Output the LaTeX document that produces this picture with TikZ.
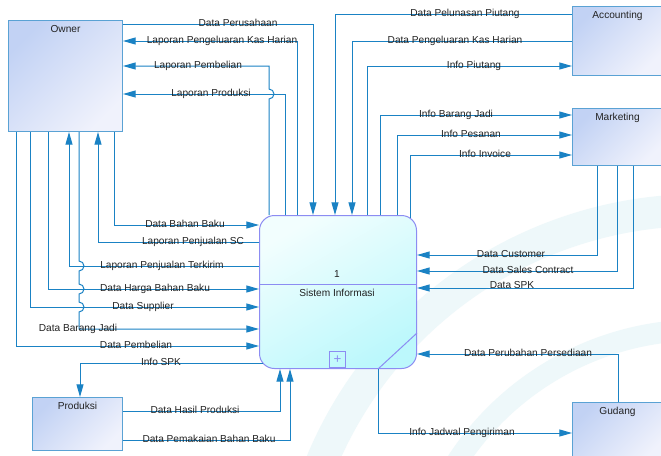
\documentclass[tikz,border=0pt]{standalone}
\usepackage{fontspec}
\setmainfont{Liberation Sans}
\usetikzlibrary{arrows.meta}
\definecolor{lc}{HTML}{1A82C4}
\definecolor{ebord}{HTML}{5AA2D4}
\definecolor{etop}{HTML}{C2D2F4}
\definecolor{ebot}{HTML}{F0F2FC}
\definecolor{pbord}{HTML}{8C8CF2}
\definecolor{ptop}{HTML}{F2FEFE}
\definecolor{pbot}{HTML}{BCF8FC}
\definecolor{txt}{HTML}{222222}
\definecolor{wm}{HTML}{EEF8FA}
\begin{document}
\begin{tikzpicture}[x=0.75pt,y=-0.75pt,
 font=\fontsize{7.6}{9}\selectfont, text=txt,
 entity/.style={draw=ebord, line width=0.75pt, top color=etop, bottom color=ebot, shading angle=45, anchor=north west, inner sep=0pt},
 title/.style={anchor=north, inner sep=0pt, yshift=-3.75pt, text height=5.4pt, text depth=0pt},
 flow/.style={draw=lc, line width=0.75pt},
 arr/.style={flow, -{Triangle[length=9.5pt,width=5.25pt]}},
 lbl/.style={anchor=base, inner sep=0pt},
]
\useasboundingbox (0,0) rectangle (661,455);
\clip (0,0) rectangle (661,455);
\fill[white] (0,0) rectangle (661,455);
% watermark
\draw[wm, line width=24pt] (700,620) ++(160:307.5pt) arc[start angle=160, end angle=88, radius=307.5pt];
\draw[wm, line width=16pt] (700,620) ++(150:217.5pt) arc[start angle=150, end angle=95, radius=217.5pt];

% entities
\node[entity, minimum width=85.5pt, minimum height=83.25pt, label={[title]north:Owner}] (owner) at (8,20) {};
\node[entity, minimum width=67.5pt, minimum height=51.75pt, label={[title]north:Accounting}] (acc) at (572,6) {};
\node[entity, minimum width=67.5pt, minimum height=42.75pt, label={[title]north:Marketing}] (mkt) at (572,108) {};
\node[entity, minimum width=67.5pt, minimum height=45pt, label={[title]north:Gudang}] (gud) at (572,402) {};
\node[entity, minimum width=67.5pt, minimum height=39.75pt, label={[title]north:Produksi}] (prod) at (32,397) {};

% process
\node[draw=pbord, line width=0.75pt, rounded corners=11.25pt, top color=ptop, bottom color=pbot, shading angle=30, anchor=north west, minimum width=117.75pt, minimum height=114.75pt, inner sep=0pt] (proc) at (259,215) {};
\draw[pbord, line width=0.75pt] (proc.west |- 0,284) -- (proc.east |- 0,284);
\draw[pbord, line width=0.75pt] (proc.south -| 378,0) -- (proc.east |- 0,333);
\node[draw=pbord, line width=0.75pt, minimum width=12pt, minimum height=12pt, inner sep=0pt, anchor=south west, text=pbord, font=\fontsize{10}{10}\selectfont] (plus) at (329,368) {+};
\node[inner sep=0pt] (pnum) at (337,274) {1};
\node[inner sep=0pt] (pname) at (337,293) {Sistem Informasi};

% Owner right side
\draw[arr] (owner.east |- 0,24) -| (proc.north -| 313,0);
\draw[arr] (proc.north -| 297,0) |- (owner.east |- 0,41);
\draw[arr] (proc.north -| 269,0) -- (269,99) arc[start angle=-90, end angle=90, radius=3.75pt] -- (269,66) -- (owner.east |- 0,66);
\draw[arr] (proc.north -| 285,0) |- (owner.east |- 0,94);

% Owner bottom
\draw[arr] (owner.south -| 114,0) |- (proc.west |- 0,225);
\draw[arr] (proc.west |- 0,242) -| (owner.south -| 98,0);
\draw[arr] (proc.west |- 0,266) -| (owner.south -| 69,0);
\draw[arr] (owner.south -| 48,0) |- (proc.west |- 0,289);
\draw[arr] (owner.south -| 30,0) |- (proc.west |- 0,307);
\draw[arr] (owner.south -| 79,0) -- (79,261) arc[start angle=90, end angle=-90, radius=3.75pt]
  -- (79,284) arc[start angle=90, end angle=-90, radius=3.75pt]
  -- (79,302) arc[start angle=90, end angle=-90, radius=3.75pt]
  -- (79,329) -- (proc.west |- 0,329);
\draw[arr] (owner.south -| 16,0) |- (proc.west |- 0,346);

% Produksi
\draw[arr] ([xshift=2.9pt]proc.west |- 0,363) -| (prod.north -| 80,0);
\draw[arr] (prod.east |- 0,411) -| (proc.south -| 280,0);
\draw[arr] (prod.east |- 0,440) -| (proc.south -| 290,0);

% Accounting
\draw[arr] (acc.west |- 0,14) -| (proc.north -| 335,0);
\draw[arr] (acc.west |- 0,41) -| (proc.north -| 352,0);
\draw[arr] (proc.north -| 367,0) |- (acc.west |- 0,66);

% Marketing
\draw[arr] (proc.north -| 380,0) |- (mkt.west |- 0,115);
\draw[arr] (proc.north -| 397,0) |- (mkt.west |- 0,135);
\draw[arr] ([yshift=-2.25pt]proc.north -| 410,0) |- (mkt.west |- 0,155);
\draw[arr] (mkt.south -| 597,0) |- (proc.east |- 0,255);
\draw[arr] (mkt.south -| 617,0) |- (proc.east |- 0,271);
\draw[arr] (mkt.south -| 633,0) |- (proc.east |- 0,288);

% Gudang
\draw[arr] (gud.north -| 618,0) |- (proc.east |- 0,354);
\draw[arr] (proc.south -| 378,0) |- (gud.west |- 0,433);

% labels
\node[lbl] (l1) at (238,26.5) {Data Perusahaan};
\node[lbl] (l2) at (222,43.5) {Laporan Pengeluaran Kas Harian};
\node[lbl] (l3) at (198,68.5) {Laporan Pembelian};
\node[lbl] (l4) at (211,96.5) {Laporan Produksi};
\node[lbl] (l5) at (185,227.5) {Data Bahan Baku};
\node[lbl] (l6) at (193,244.5) {Laporan Penjualan SC};
\node[lbl] (l7) at (162,268.5) {Laporan Penjualan Terkirim};
\node[lbl] (l8) at (155,291.5) {Data Harga Bahan Baku};
\node[lbl] (l9) at (143,309.5) {Data Supplier};
\node[lbl] (l10) at (78,331.5) {Data Barang Jadi};
\node[lbl] (l11) at (136,348.5) {Data Pembelian};
\node[lbl] (l12) at (161,365.5) {Info SPK};
\node[lbl] (l13) at (195,413.5) {Data Hasil Produksi};
\node[lbl] (l14) at (209,442.5) {Data Pemakaian Bahan Baku};
\node[lbl] (r1) at (465,16.5) {Data Pelunasan Piutang};
\node[lbl] (r2) at (455,43.5) {Data Pengeluaran Kas Harian};
\node[lbl] (r3) at (474,68.5) {Info Piutang};
\node[lbl] (r4) at (456,117.5) {Info Barang Jadi};
\node[lbl] (r5) at (471,137.5) {Info Pesanan};
\node[lbl] (r6) at (485,157.5) {Info Invoice};
\node[lbl] (r7) at (511,257.5) {Data Customer};
\node[lbl] (r8) at (528,273.5) {Data Sales Contract};
\node[lbl] (r9) at (512,288.5) {Data SPK};
\node[lbl] (r10) at (528,356.5) {Data Perubahan Persediaan};
\node[lbl] (r11) at (462,435.5) {Info Jadwal Pengiriman};
\end{tikzpicture}
\end{document}
